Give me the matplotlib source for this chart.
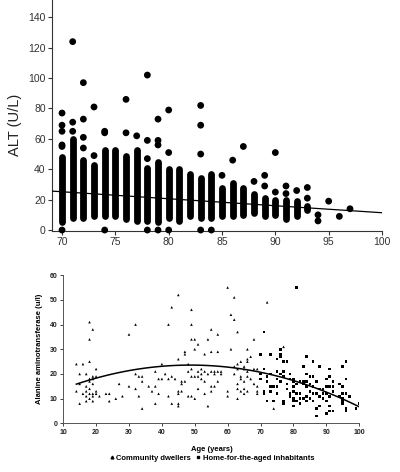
import numpy as np
import matplotlib
matplotlib.use('Agg')
import matplotlib.pyplot as plt
from matplotlib.lines import Line2D

plt.rcParams['font.family'] = ['Liberation Sans', 'DejaVu Sans']

#%% top panel data: ALT by age (70+), dense runs per age + isolated points
col_age = [70, 71, 72, 73, 74, 75, 76, 77, 78, 79, 80, 81, 82, 83, 84, 85, 86, 87, 88, 89, 90, 91, 92, 93]
col_lo = [5, 8, 8, 9, 9, 9, 7, 6, 6, 5, 8, 6, 9, 8, 8, 9, 9, 10, 11, 9, 10, 7, 9, 13]
col_hi = [48, 60, 46, 43, 53, 53, 49, 53, 41, 45, 40, 40, 37, 34, 37, 28, 31, 28, 24, 21, 20, 20, 19, 16]

pt_age = [70, 70, 70, 70, 70, 70, 71, 71, 71, 72, 72, 72, 72, 73, 73, 74, 74, 74,
          76, 76, 77, 78, 78, 78, 78, 79, 79, 79, 79, 80, 80, 80,
          83, 83, 83, 83, 84, 85, 86, 87, 88, 89, 89, 90, 90, 91, 91, 92,
          93, 93, 94, 94, 95, 96, 97]
pt_alt = [0, 55, 56, 65, 69, 77, 65, 71, 124, 54, 61, 73, 97, 49, 81, 0, 64, 65,
          64, 86, 62, 0, 47, 59, 102, 0, 56, 59, 73, 0, 51, 79,
          0, 50, 69, 82, 0, 36, 46, 55, 32, 29, 36, 25, 51, 24, 29, 26,
          21, 28, 6, 10, 19, 9, 14]

# linear fit
fit_intercept = 57.4
fit_slope = -0.46

#%% bottom panel data: ALT by age, two groups
comm_age = [14, 14, 15, 15, 15, 16, 16, 17, 17, 17, 17, 17, 18, 18, 18, 18, 18, 18, 18, 18,
            19, 19, 19, 19, 19, 19, 19, 20, 20, 20, 20, 21, 23, 24, 24, 26, 27, 28, 30, 30,
            32, 32, 32, 33, 33, 34, 34, 34, 36, 37, 38, 38, 38, 39, 39, 40, 40, 41, 42, 42,
            42, 43, 43, 43, 44, 45, 45, 45, 45, 45, 45, 46, 46, 46, 47, 47, 47, 48, 48, 48,
            49, 49, 49, 49, 49, 49, 50, 50, 50, 50, 51, 51, 51, 51, 52, 52, 52, 53, 53, 53,
            53, 54, 54, 54, 55, 55, 55, 55, 55, 56, 56, 56, 57, 57, 57, 57, 58, 58, 60, 60,
            60, 61, 61, 62, 62, 62, 62, 63, 63, 63, 63, 63, 63, 64, 64, 64, 64, 65, 65, 65,
            65, 65, 66, 66, 66, 66, 66, 66, 67, 67, 68, 68, 68, 69, 69, 69, 69, 72, 74, 77]
comm_alt = [24, 13, 20, 16, 8, 24, 12, 20, 15, 13, 11, 9, 41, 34, 25, 18, 17, 14, 12, 10,
            38, 19, 18, 16, 12, 11, 9, 22, 19, 13, 12, 11, 12, 12, 9, 10, 16, 11, 36, 15,
            40, 20, 14, 19, 11, 19, 17, 6, 15, 13, 21, 15, 8, 18, 12, 24, 18, 20, 40, 18,
            11, 47, 19, 8, 18, 52, 26, 13, 12, 8, 7, 17, 16, 13, 28, 29, 17, 24, 21, 11,
            46, 40, 34, 22, 19, 11, 34, 30, 19, 10, 32, 19, 14, 21, 22, 20, 18, 28, 21, 17,
            12, 34, 20, 7, 38, 29, 21, 15, 13, 21, 20, 15, 36, 29, 21, 17, 21, 20, 55, 13,
            11, 44, 30, 51, 42, 23, 20, 37, 24, 22, 16, 14, 10, 25, 19, 18, 13, 23, 22, 17,
            14, 12, 30, 26, 25, 21, 19, 13, 27, 18, 34, 22, 16, 22, 15, 13, 12, 49, 6, 31]

home_age = [70, 70, 70, 71, 71, 71, 71, 72, 72, 72, 73, 73, 73, 73, 74, 74, 75, 75, 75, 75,
            75, 76, 76, 76, 76, 76, 77, 77, 77, 77, 77, 78, 78, 78, 79, 79, 79, 79, 80, 80,
            80, 80, 80, 80, 80, 81, 81, 81, 81, 82, 82, 82, 82, 83, 83, 83, 83, 84, 84, 84,
            84, 84, 84, 85, 85, 85, 85, 86, 86, 86, 86, 86, 87, 87, 87, 87, 88, 88, 88, 88,
            89, 89, 89, 90, 90, 90, 90, 90, 91, 91, 91, 91, 91, 91, 92, 92, 92, 92, 94, 94,
            95, 95, 95, 95, 95, 95, 96, 96, 96, 96, 96, 97, 99, 100]
home_alt = [28, 20, 18, 37, 22, 13, 12, 19, 17, 9, 28, 20, 15, 13, 15, 9, 26, 21, 18, 15,
            12, 30, 28, 27, 20, 17, 25, 21, 19, 9, 8, 25, 16, 14, 20, 18, 12, 11, 18, 17,
            15, 13, 10, 9, 7, 55, 16, 12, 9, 17, 12, 10, 8, 23, 17, 16, 10, 27, 20, 17,
            15, 11, 9, 19, 16, 13, 10, 25, 19, 15, 12, 9, 17, 12, 6, 3, 23, 14, 11, 7,
            14, 12, 10, 18, 15, 12, 9, 4, 22, 19, 15, 11, 7, 5, 17, 15, 13, 5, 16, 11,
            23, 15, 12, 10, 9, 8, 25, 18, 12, 6, 5, 11, 6, 8]

# quadratic fit (vertex form)
quad_peak_age = 48.7
quad_peak_alt = 23.6
quad_curv = -0.00641

#%%
fig = plt.figure(figsize=(4, 4.72), dpi=100)

# ---- top
ax1 = fig.add_axes([0.13, 0.511, 0.825, 0.489])
ax1.vlines(col_age, col_lo, col_hi, color='black', linewidth=4.9,
           capstyle='round', clip_on=False, zorder=3)
ax1.scatter(pt_age, pt_alt, s=24, color='black', edgecolors='none', clip_on=False, zorder=3)
xl = np.array([69.06, 100])
ax1.plot(xl, fit_intercept + fit_slope * xl, color='black', lw=0.9, zorder=4)
ax1.set_xlim(69.06, 100)
ax1.set_ylim(-0.5, 151.4)
ax1.set_xticks(range(70, 101, 5))
ax1.set_yticks(range(0, 141, 20))
for s in ['top', 'right']:
    ax1.spines[s].set_visible(False)
for s in ['left', 'bottom']:
    ax1.spines[s].set_color('#333333')
    ax1.spines[s].set_linewidth(0.8)
ax1.tick_params(direction='out', length=3, width=0.8, labelsize=7.5, colors='#333333', pad=1.5)
ax1.set_ylabel('ALT (U/L)', fontsize=10.5, color='#222222')
ax1.yaxis.set_label_coords(-0.09, 0.46)

# ---- bottom
ax2 = fig.add_axes([0.158, 0.103, 0.74, 0.314])
ax2.scatter(comm_age, comm_alt, marker='^', s=3.5, color='black', edgecolors='none', zorder=3)
ax2.scatter(home_age, home_alt, marker='s', s=3.5, color='black', edgecolors='none', zorder=3)
xq = np.linspace(14, 100, 100)
ax2.plot(xq, quad_peak_alt + quad_curv * (xq - quad_peak_age) ** 2, color='black', lw=1.1, zorder=4)
ax2.set_xlim(10, 100)
ax2.set_ylim(0, 60)
ax2.set_xticks(range(10, 101, 10))
ax2.set_yticks(range(0, 61, 10))
for s in ['top', 'right']:
    ax2.spines[s].set_visible(False)
for s in ['left', 'bottom']:
    ax2.spines[s].set_color('#555555')
    ax2.spines[s].set_linewidth(0.7)
ax2.tick_params(direction='out', length=2, width=0.6, labelsize=5, colors='#222222', pad=2)
for lab in ax2.get_xticklabels() + ax2.get_yticklabels():
    lab.set_fontweight('bold')
ax2.set_ylabel('Alanine aminotransferase (u/l)', fontsize=5.5, fontweight='bold')
ax2.yaxis.set_label_coords(-0.068, 0.5)
ax2.set_xlabel('Age (years)', fontsize=5.5, fontweight='bold')
ax2.xaxis.set_label_coords(0.503, -0.155)

handles = [Line2D([], [], marker='^', ls='none', color='black', markersize=2),
           Line2D([], [], marker='s', ls='none', color='black', markersize=1.8)]
fig.legend(handles, ['Community dwellers', 'Home-for-the-aged inhabitants'],
           loc='center', bbox_to_anchor=(0.53, 0.030), ncol=2, frameon=False,
           prop={'size': 5.5, 'weight': 'bold'}, handlelength=0.6, handletextpad=0.3,
           columnspacing=0.6)

fig.savefig('out.png', dpi=100)
